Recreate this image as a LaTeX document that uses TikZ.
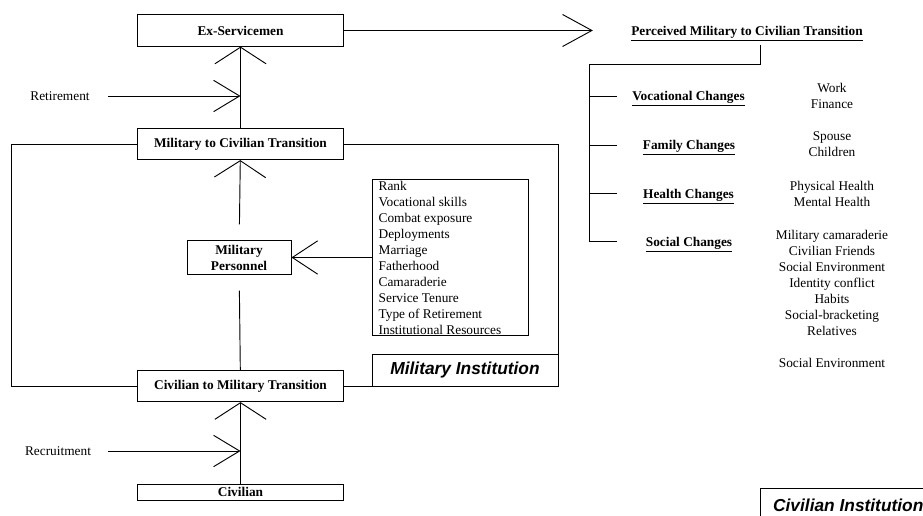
\documentclass[tikz,border=0pt]{standalone}
\usepackage{fontspec}
\setmainfont{Liberation Serif}
\setsansfont{Liberation Sans}
\usetikzlibrary{arrows.meta, positioning, calc}

\begin{document}
\begin{tikzpicture}[x=0.75pt, y=-0.75pt, line width=0.7pt, font=\fontsize{10}{12}\selectfont]
        \tikzset{stagebox/.style={draw,
                font=\fontsize{10}{12}\selectfont\bfseries,
                minimum width = 155pt,
                minimum height = 23.5pt,
                inner sep = 1pt
        }}
        \tikzset{institution/.style={draw,
                font=\fontsize{13}{15}\selectfont\sffamily\bfseries\itshape,
                minimum height = 23.5pt,
                inner sep = 2pt
        }}
        \tikzset{changes/.style={
                font=\fontsize{10}{12}\selectfont\bfseries,
                inner sep = 0pt
        }}
        \tikzset{details/.style={align=center, inner sep = 0pt}}
        \tikzset{upconn/.style={-{Straight Barb[length=12.5pt, width=38.5pt]}}}
        \tikzset{sideconn/.style={-{Straight Barb[length=19.5pt, width=23.5pt]}}}
        \tikzset{factconn/.style={-{Straight Barb[length=19pt, width=25pt]}}}
        \tikzset{outconn/.style={-{Straight Barb[length=22pt, width=24pt]}}}

        \useasboundingbox (0,0) rectangle (923,516);

        % left column
        \node[stagebox] (exserv) at (240.5,30.5) {Ex-Servicemen};
        \node[stagebox] (miltociv) at (240.5,144) {Military to Civilian Transition};
        \node[draw, align=center, font=\fontsize{10}{12}\selectfont\bfseries,
              minimum width=78pt, minimum height=25pt, inner sep=1pt] (milpers) at (239,257.5) {Military\\Personnel};
        \node[stagebox] (civtomil) at (240.5,386) {Civilian to Military Transition};
        \node[stagebox, minimum height=12pt] (civilian) at (240.5,492) {Civilian};
        \node (retirement) at (60,96) {Retirement};
        \node (recruitment) at (58,451) {Recruitment};
        \coordinate (retj) at (exserv.south |- retirement);
        \coordinate (recj) at (civilian.north |- recruitment);

        \draw[upconn] (miltociv) -- (exserv);
        \draw[sideconn, shorten <=10pt] (retirement) -- (retj);
        \draw[upconn, shorten <=12pt] (milpers) -- (miltociv);
        \draw[shorten >=12pt] (civtomil) -- (milpers);
        \draw[upconn] (civilian) -- (civtomil);
        \draw[sideconn, shorten <=9pt] (recruitment) -- (recj);

        % military institution frame
        \node[draw, align=flush left, text width=107pt, inner xsep=5pt, inner ysep=1pt] (factors) at (450,257.5)
                {Rank\\Vocational skills\\Combat exposure\\Deployments\\Marriage\\Fatherhood\\Camaraderie\\Service Tenure\\Type of Retirement\\Institutional Resources};
        \draw[factconn] (factors) -- (milpers);
        \node[institution, minimum width=139.5pt] (milinst) at (465,370.5) {Military Institution};
        \draw (miltociv.west) -| (11,386) -- (civtomil.west);
        \draw (miltociv.east) -| (558,386) -- (civtomil.east);

        % perceived transition
        \node[changes] (perceived) at (747,34) {\underline{Perceived Military to Civilian Transition}};
        \draw[outconn, shorten >=28.5pt] (exserv) -- (perceived.west |- exserv);
        \coordinate (trunk) at (589,64);
        \node[changes] (vocational) at (688.5,99) {\underline{Vocational Changes}};
        \node[changes] (family) at (689,148) {\underline{Family Changes}};
        \node[changes] (health) at (688.5,197) {\underline{Health Changes}};
        \node[changes] (social) at (689,245) {\underline{Social Changes}};
        \draw (760,45) |- (trunk) -- (trunk |- 0,241);
        \draw (trunk |- 0,96) -- +(28,0);
        \draw (trunk |- 0,145) -- +(28,0);
        \draw (trunk |- 0,193) -- +(28,0);
        \draw (trunk |- 0,241) -- +(28,0);

        \node[details] (vocdet) at (832,95.5) {Work\\Finance};
        \node[details] (famdet) at (832,144.5) {Spouse\\Children};
        \node[details] (headet) at (832,193.5) {Physical Health\\Mental Health};
        \node[details] (socdet) at (832,298.5) {Military camaraderie\\Civilian Friends\\Social Environment\\Identity conflict\\Habits\\Social-bracketing\\Relatives\\[12pt]Social Environment};

        \node[institution, anchor=north west, inner xsep=9.5pt, minimum height=26pt] (civinst) at (760,488) {Civilian Institution};
\end{tikzpicture}
\end{document}
